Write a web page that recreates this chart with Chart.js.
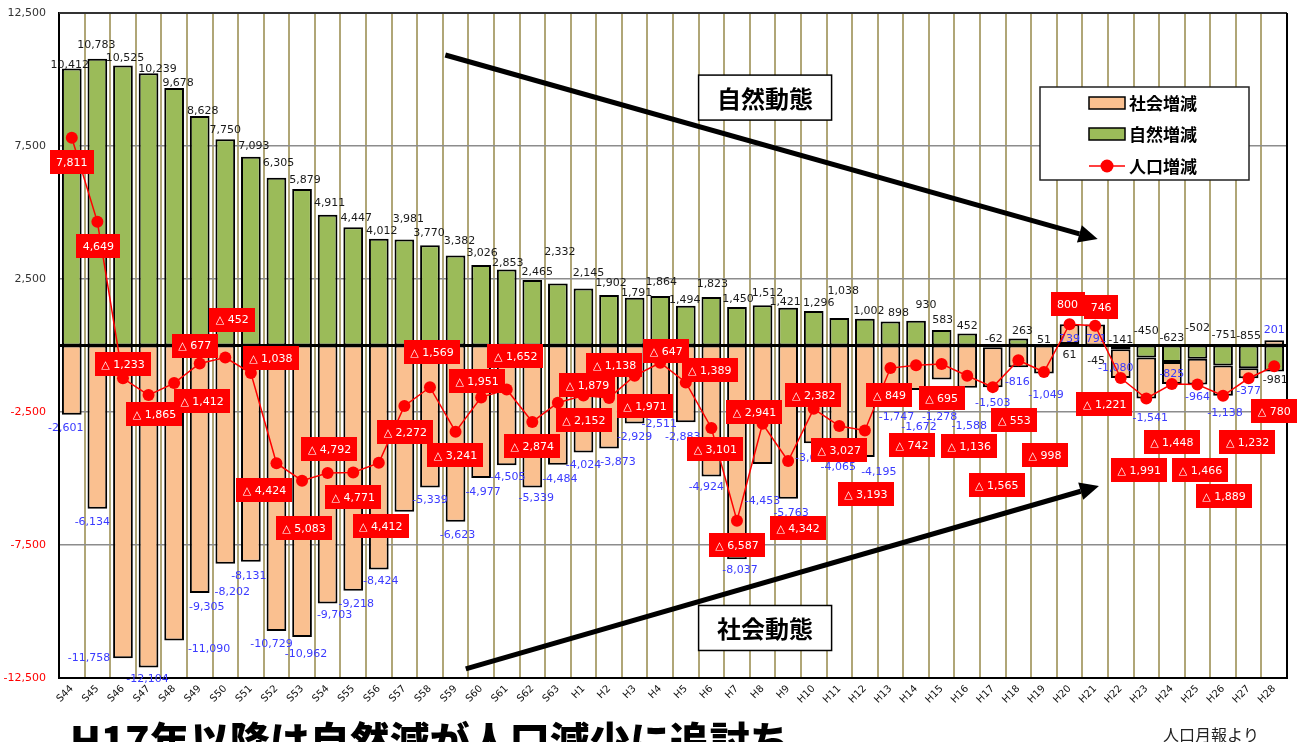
<!DOCTYPE html>
<html lang="ja">
<head>
<meta charset="utf-8">
<title>人口動態の推移</title>
<script src="https://cdn.jsdelivr.net/npm/chart.js@4.4.1/dist/chart.umd.min.js"></script>
<style>
  html, body { margin: 0; padding: 0; background: #ffffff; }
  #wrap { position: relative; width: 1304px; height: 742px; overflow: hidden; }
  canvas { display: block; }
</style>
</head>
<body>
<div id="wrap"><canvas id="chart" width="1304" height="742"></canvas></div>
<script>
// ---- data -------------------------------------------------------------
const years = [
  'S44','S45','S46','S47','S48','S49','S50','S51','S52','S53',
  'S54','S55','S56','S57','S58','S59','S60','S61','S62','S63',
  'H1','H2','H3','H4','H5','H6','H7','H8','H9','H10',
  'H11','H12','H13','H14','H15','H16','H17','H18','H19','H20',
  'H21','H22','H23','H24','H25','H26','H27','H28'
];

// 自然増減
const naturalChange = [
  10412, 10783, 10525, 10239, 9678, 8628, 7750, 7093, 6305, 5879,
  4911, 4447, 4012, 3981, 3770, 3382, 3026, 2853, 2465, 2332,
  2145, 1902, 1791, 1864, 1494, 1823, 1450, 1512, 1421, 1296,
  1038, 1002, 898, 930, 583, 452, -62, 263, 51, 61,
  -45, -141, -450, -623, -502, -751, -855, -981
];

// 社会増減
const socialChange = [
  -2601, -6134, -11758, -12104, -11090, -9305, -8202, -8131, -10729, -10962,
  -9703, -9218, -8424, -6253, -5339, -6623, -4977, -4505, -5339, -4484,
  -4024, -3873, -2929, -2511, -2883, -4924, -8037, -4453, -5763, -3678,
  -4065, -4195, -1747, -1672, -1278, -1588, -1503, -816, -1049, 739,
  791, -1080, -1541, -825, -964, -1138, -377, 201
];

// 人口増減
const populationChange = [
  7811, 4649, -1233, -1865, -1412, -677, -452, -1038, -4424, -5083,
  -4792, -4771, -4412, -2272, -1569, -3241, -1951, -1652, -2874, -2152,
  -1879, -1971, -1138, -647, -1389, -3101, -6587, -2941, -4342, -2382,
  -3027, -3193, -849, -742, -695, -1136, -1565, -553, -998, 800,
  746, -1221, -1991, -1448, -1466, -1889, -1232, -780
];

const yTickValues = [-12500, -7500, -2500, 2500, 7500, 12500];

// ---- label placement (pixel offsets from each mark) --------------------
const popLabelDx = [
  0, 1, 0, 6, 28, -5, 7, 20, -12, 2, 2, 0, 2, 1, 2, 0, -4, 9, 0, 26,
  4, 36, -20, 6, 24, 4, 0, -8, 10, 0, 0, 1, -1, -4, 0, 2, 4, -4, 1, -2,
  6, -16, -7, 0, 3, 1, -1, 0
];
const popLabelDy = [
  24, 24, -14, 19, 18, -18, -38, -15, 27, 47, -24, 25, 63, 26, -35, 23, -16, -33, 24, 17,
  -10, 8, -11, -12, -12, 21, 24, -12, 67, -14, 24, 64, 27, 80, 34, 70, 98, 60, 83, -20,
  -19, 26, 72, 58, 86, 100, 64, 45
];
const naturalLabelDx = [
  -2, -1, 2, 9, 4, 3, 0, 3, 2, 3, 2, 3, 3, 4, -1, 4, 1, 1, 5, 2,
  5, 2, 2, 1, -1, 1, 1, 5, -3, 5, 4, 4, 8, 10, 1, 0, 1, 4, 0, 0,
  1, 0, 0, 0, 0, 1, 0, 1
];
const naturalLabelDy = [
  -3, -14, -7, -4, -5, -5, -9, -11, -15, -9, -12, -9, -8, -20, -12, -14, -12, -6, -8, -31,
  -15, -12, -5, -14, -6, -13, -8, -12, -6, -8, -27, -8, -8, -16, -10, -7, -8, -7, -4, 11,
  14, -9, -26, -24, -31, -30, -32, 9
];
const socialLabelDx = [
  -6, -5, -34, -1, 35, 7, 7, -2, -5, 4, 7, 3, 2, -19, 0, 2, 2, 1, 4, 2,
  0, 9, 0, -1, -3, -5, 3, 0, 3, -1, -1, 14, 6, 3, -2, 2, 0, -1, 2, 0,
  1, -5, 4, 0, 0, 2, 0, 0
];
const socialLabelDy = [
  13, 13, 0, 12, 9, 14, 28, 14, 13, 17, 12, 13, 12, 13, 13, 13, 14, 12, 11, 14,
  13, 14, 14, 12, 15, 11, 11, 37, 14, 15, 14, 15, 25, 37, 38, 38, 16, 15, 22, 15,
  15, -10, 20, -10, 13, 17, 13, -10
];

// ---- helpers ------------------------------------------------------------
const fmt = v => v.toLocaleString('en-US');
const popText = v => (v < 0 ? '\u25B3 ' + fmt(-v) : fmt(v));
const NUM_FONT = '11px "DejaVu Sans", Verdana, sans-serif';
const JP_BOLD = '"Noto Sans CJK JP", "Noto Sans", sans-serif';

const COLOR_SOCIAL = '#fac090';
const COLOR_NATURAL = '#9bbb59';
const COLOR_POP = '#ff0000';

// zero line and plot frame
const framePlugin = {
  id: 'frame',
  beforeDatasetsDraw(chart) {
    const { ctx, chartArea: a, scales: { y } } = chart;
    ctx.save();
    ctx.strokeStyle = '#000';
    ctx.lineWidth = 3;
    const y0 = y.getPixelForValue(0);
    ctx.beginPath();
    ctx.moveTo(a.left, y0);
    ctx.lineTo(a.right, y0);
    ctx.stroke();
    ctx.restore();
  },
  afterDatasetsDraw(chart) {
    const { ctx, chartArea: a } = chart;
    ctx.save();
    ctx.lineWidth = 2;
    ctx.strokeStyle = '#333';
    ctx.beginPath();
    ctx.moveTo(a.left, a.top);
    ctx.lineTo(a.right, a.top);
    ctx.stroke();
    ctx.strokeStyle = '#000';
    ctx.beginPath();
    ctx.moveTo(a.right, a.top);
    ctx.lineTo(a.right, a.bottom);
    ctx.stroke();
    ctx.restore();
  }
};

// value labels of the two bar series, drawn under the population line
const barLabelPlugin = {
  id: 'barLabels',
  beforeDatasetDraw(chart, args) {
    if (args.index !== 2) return;
    const ctx = chart.ctx;
    const natural = chart.getDatasetMeta(0).data;
    const social = chart.getDatasetMeta(1).data;
    ctx.save();
    ctx.font = NUM_FONT;
    ctx.textAlign = 'center';
    ctx.textBaseline = 'middle';
    natural.forEach((bar, i) => {
      ctx.fillStyle = '#1a1a1a';
      ctx.fillText(fmt(naturalChange[i]), bar.x + naturalLabelDx[i], bar.y + naturalLabelDy[i]);
    });
    social.forEach((bar, i) => {
      ctx.fillStyle = '#3a3aff';
      ctx.fillText(fmt(socialChange[i]), bar.x + socialLabelDx[i], bar.y + socialLabelDy[i]);
    });
    ctx.restore();
  }
};

// arrows, captions, population value boxes
const annotationPlugin = {
  id: 'annotations',
  afterDatasetsDraw(chart) {
    const { ctx, scales: { x, y } } = chart;

    const arrow = (i0, v0, i1, v1) => {
      const x0 = x.getPixelForValue(i0), y0 = y.getPixelForValue(v0);
      const x1 = x.getPixelForValue(i1), y1 = y.getPixelForValue(v1);
      const ang = Math.atan2(y1 - y0, x1 - x0);
      const headLen = 19, headHalf = 9;
      const bx = x1 - headLen * Math.cos(ang), by = y1 - headLen * Math.sin(ang);
      ctx.save();
      ctx.strokeStyle = '#000';
      ctx.fillStyle = '#000';
      ctx.lineWidth = 5;
      ctx.beginPath();
      ctx.moveTo(x0, y0);
      ctx.lineTo(bx, by);
      ctx.stroke();
      ctx.beginPath();
      ctx.moveTo(x1, y1);
      ctx.lineTo(bx + headHalf * Math.sin(ang), by - headHalf * Math.cos(ang));
      ctx.lineTo(bx - headHalf * Math.sin(ang), by + headHalf * Math.cos(ang));
      ctx.closePath();
      ctx.fill();
      ctx.restore();
    };

    const caption = (i, v, text) => {
      const cx = x.getPixelForValue(i), cy = y.getPixelForValue(v);
      const w = 133, h = 45;
      ctx.save();
      ctx.fillStyle = '#fff';
      ctx.fillRect(cx - w / 2, cy - h / 2, w, h);
      ctx.strokeStyle = '#000';
      ctx.lineWidth = 1.5;
      ctx.strokeRect(cx - w / 2, cy - h / 2, w, h);
      ctx.fillStyle = '#000';
      ctx.font = 'bold 24px ' + JP_BOLD;
      ctx.textAlign = 'center';
      ctx.textBaseline = 'middle';
      ctx.fillText(text, cx, cy + 1);
      ctx.restore();
    };

    arrow(14.6, 10920, 40.1, 4000);
    arrow(15.4, -12160, 40.15, -5280);
    caption(27.1, 9320, '自然動態');
    caption(27.1, -10620, '社会動態');

    // population value boxes
    const pts = chart.getDatasetMeta(2).data;
    ctx.save();
    ctx.font = NUM_FONT;
    ctx.textAlign = 'center';
    ctx.textBaseline = 'middle';
    pts.forEach((p, i) => {
      const t = popText(populationChange[i]);
      const w = ctx.measureText(t).width + 13, h = 24;
      const cx = p.x + popLabelDx[i], cy = p.y + popLabelDy[i];
      ctx.fillStyle = COLOR_POP;
      ctx.fillRect(Math.round(cx - w / 2), Math.round(cy - h / 2), Math.round(w), h);
      ctx.fillStyle = '#fff';
      ctx.fillText(t, cx, cy + 1);
    });
    ctx.restore();
  },
  afterDraw(chart) {
    const ctx = chart.ctx;
    ctx.save();
    // legend
    const lx = 1040, ly = 87, lw = 209, lh = 93;
    ctx.fillStyle = '#fff';
    ctx.fillRect(lx, ly, lw, lh);
    ctx.strokeStyle = '#222';
    ctx.lineWidth = 1.5;
    ctx.strokeRect(lx, ly, lw, lh);
    const rows = [
      { y: 103, kind: 'bar', color: COLOR_SOCIAL, text: '社会増減' },
      { y: 134, kind: 'bar', color: COLOR_NATURAL, text: '自然増減' },
      { y: 166, kind: 'line', color: COLOR_POP, text: '人口増減' }
    ];
    ctx.font = 'bold 17px ' + JP_BOLD;
    ctx.textBaseline = 'middle';
    ctx.textAlign = 'left';
    rows.forEach(r => {
      if (r.kind === 'bar') {
        ctx.fillStyle = r.color;
        ctx.fillRect(1089, r.y - 6, 36, 12);
        ctx.strokeStyle = '#000';
        ctx.lineWidth = 1.5;
        ctx.strokeRect(1089, r.y - 6, 36, 12);
      } else {
        ctx.strokeStyle = r.color;
        ctx.lineWidth = 1.5;
        ctx.beginPath();
        ctx.moveTo(1089, r.y);
        ctx.lineTo(1125, r.y);
        ctx.stroke();
        ctx.fillStyle = r.color;
        ctx.beginPath();
        ctx.arc(1107, r.y, 6.5, 0, Math.PI * 2);
        ctx.fill();
      }
      ctx.fillStyle = '#000';
      ctx.fillText(r.text, 1129, r.y + 1);
    });

    // headline and source
    ctx.fillStyle = '#000';
    ctx.font = '900 40px ' + JP_BOLD;
    ctx.textBaseline = 'alphabetic';
    ctx.fillText('H17年以降は自然減が人口減少に追討ち。', 70, 756);
    ctx.font = '16px ' + JP_BOLD;
    ctx.fillStyle = '#222';
    ctx.fillText('人口月報より', 1163, 741);
    ctx.restore();
  }
};

new Chart(document.getElementById('chart'), {
  data: {
    labels: years,
    datasets: [
      {
        type: 'bar',
        label: '自然増減',
        data: naturalChange,
        backgroundColor: COLOR_NATURAL,
        borderColor: '#000',
        borderWidth: 2,
        borderSkipped: false,
        stack: 'bars',
        order: 1,
        barPercentage: 0.77,
        categoryPercentage: 1
      },
      {
        type: 'bar',
        label: '社会増減',
        data: socialChange,
        backgroundColor: COLOR_SOCIAL,
        borderColor: '#000',
        borderWidth: 2,
        borderSkipped: false,
        stack: 'bars',
        order: 2,
        barPercentage: 0.77,
        categoryPercentage: 1
      },
      {
        type: 'line',
        label: '人口増減',
        data: populationChange,
        borderColor: COLOR_POP,
        borderWidth: 1.5,
        backgroundColor: COLOR_POP,
        pointRadius: 6,
        pointBorderWidth: 0,
        pointBackgroundColor: COLOR_POP,
        tension: 0,
        stack: 'population',
        order: 0
      }
    ]
  },
  options: {
    responsive: false,
    animation: false,
    layout: { autoPadding: false, padding: { top: 13, right: 17, left: 0, bottom: 0 } },
    plugins: {
      legend: { display: false },
      tooltip: { enabled: false },
      title: { display: false }
    },
    scales: {
      x: {
        type: 'category',
        offset: true,
        grid: { offset: true, color: '#b0a677', lineWidth: 2, drawTicks: false },
        border: { color: '#000', width: 2 },
        ticks: {
          autoSkip: false,
          minRotation: 45,
          maxRotation: 45,
          padding: 5,
          color: '#111',
          font: { family: '"DejaVu Sans", Verdana, sans-serif', size: 10 }
        },
        afterFit: s => { s.height = 64; }
      },
      y: {
        min: -12500,
        max: 12500,
        stacked: true,
        afterBuildTicks: s => { s.ticks = yTickValues.map(v => ({ value: v })); },
        grid: {
          color: '#8c8c8c',
          lineWidth: 1.5,
          drawTicks: true,
          tickLength: 13,
          tickColor: 'rgba(0,0,0,0)'
        },
        border: { color: '#000', width: 2 },
        ticks: {
          padding: 0,
          callback: v => fmt(v),
          color: c => (c.tick && c.tick.value < 0 ? '#ff0000' : '#333'),
          font: { family: '"DejaVu Sans", Verdana, sans-serif', size: 11 }
        },
        afterFit: s => { s.width = 59; }
      }
    }
  },
  plugins: [framePlugin, barLabelPlugin, annotationPlugin]
});
</script>
</body>
</html>
